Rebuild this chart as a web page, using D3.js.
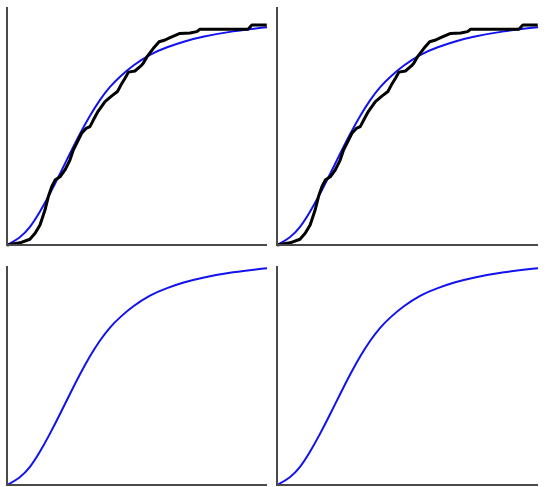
<!DOCTYPE html>
<html>
<head>
<meta charset="utf-8">
<script src="https://cdn.jsdelivr.net/npm/d3@7"></script>
<style>
  body { margin: 0; background: #fff; }
  svg { display: block; }
</style>
</head>
<body>
<div id="plot"></div>
<script>
// smooth model CDF (x, F)
const cdfX = [0, 0.050, 0.088, 0.127, 0.165, 0.204, 0.242, 0.281, 0.319, 0.358, 0.396, 0.435, 0.485, 0.550, 0.615, 0.685, 0.742, 0.869, 1.0];
const cdfY = [0, 0.032, 0.078, 0.151, 0.233, 0.324, 0.416, 0.507, 0.589, 0.662, 0.721, 0.767, 0.817, 0.868, 0.900, 0.927, 0.945, 0.973, 0.990];

// empirical CDF shown in the top row
const ecdfX = [0, 0.050, 0.088, 0.108, 0.127, 0.146, 0.159, 0.172, 0.185, 0.204, 0.223, 0.242, 0.255, 0.268, 0.287, 0.304, 0.319, 0.332, 0.351, 0.377, 0.403, 0.425, 0.438, 0.454, 0.467, 0.492, 0.515, 0.524, 0.538, 0.563, 0.585, 0.608, 0.627, 0.665, 0.704, 0.730, 0.742, 0.927, 0.942, 0.999];
const ecdfY = [0, 0.010, 0.026, 0.053, 0.091, 0.159, 0.220, 0.265, 0.295, 0.310, 0.341, 0.386, 0.432, 0.462, 0.508, 0.530, 0.538, 0.568, 0.609, 0.652, 0.678, 0.698, 0.727, 0.758, 0.786, 0.791, 0.814, 0.826, 0.855, 0.894, 0.924, 0.932, 0.943, 0.962, 0.964, 0.970, 0.981, 0.981, 1.0, 1.0];

const cdf = cdfX.map((x, i) => [x, cdfY[i]]);
const ecdf = ecdfX.map((x, i) => [x, ecdfY[i]]);

const W = 548, H = 487;
const svg = d3.select('#plot').append('svg')
  .attr('width', W)
  .attr('height', H);

// panel boxes: left, right, top, bottom, y max, show empirical
const panels = [
  { x0: 7,   x1: 267, y0: 7,   y1: 245, ymax: 1.082, emp: true },
  { x0: 277, x1: 538, y0: 7,   y1: 245, ymax: 1.082, emp: true },
  { x0: 7,   x1: 267, y0: 266, y1: 485, ymax: 1.0,   emp: false },
  { x0: 277, x1: 538, y0: 266, y1: 485, ymax: 1.0,   emp: false }
];

panels.forEach(p => {
  const x = d3.scaleLinear().domain([0, 1]).range([p.x0, p.x1]);
  const y = d3.scaleLinear().domain([0, p.ymax]).range([p.y1, p.y0]);
  const g = svg.append('g');

  g.append('path')
    .datum(cdf)
    .attr('d', d3.line().x(d => x(d[0])).y(d => y(d[1])).curve(d3.curveBasis))
    .attr('fill', 'none')
    .attr('stroke', '#1212f0')
    .attr('stroke-width', 2);

  if (p.emp) {
    g.append('path')
      .datum(ecdf)
      .attr('d', d3.line().x(d => x(d[0])).y(d => y(d[1])))
      .attr('fill', 'none')
      .attr('stroke', '#000')
      .attr('stroke-width', 3)
      .attr('stroke-linejoin', 'round');
  }

  // axes: plain lines, no ticks
  g.append('line')
    .attr('x1', p.x0).attr('x2', p.x0)
    .attr('y1', p.y0).attr('y2', p.y1 + 1)
    .attr('stroke', '#4a4a4a').attr('stroke-width', 2);
  g.append('line')
    .attr('x1', p.x0 - 1).attr('x2', p.x1)
    .attr('y1', p.y1).attr('y2', p.y1)
    .attr('stroke', '#4a4a4a').attr('stroke-width', 2);
});
</script>
</body>
</html>
